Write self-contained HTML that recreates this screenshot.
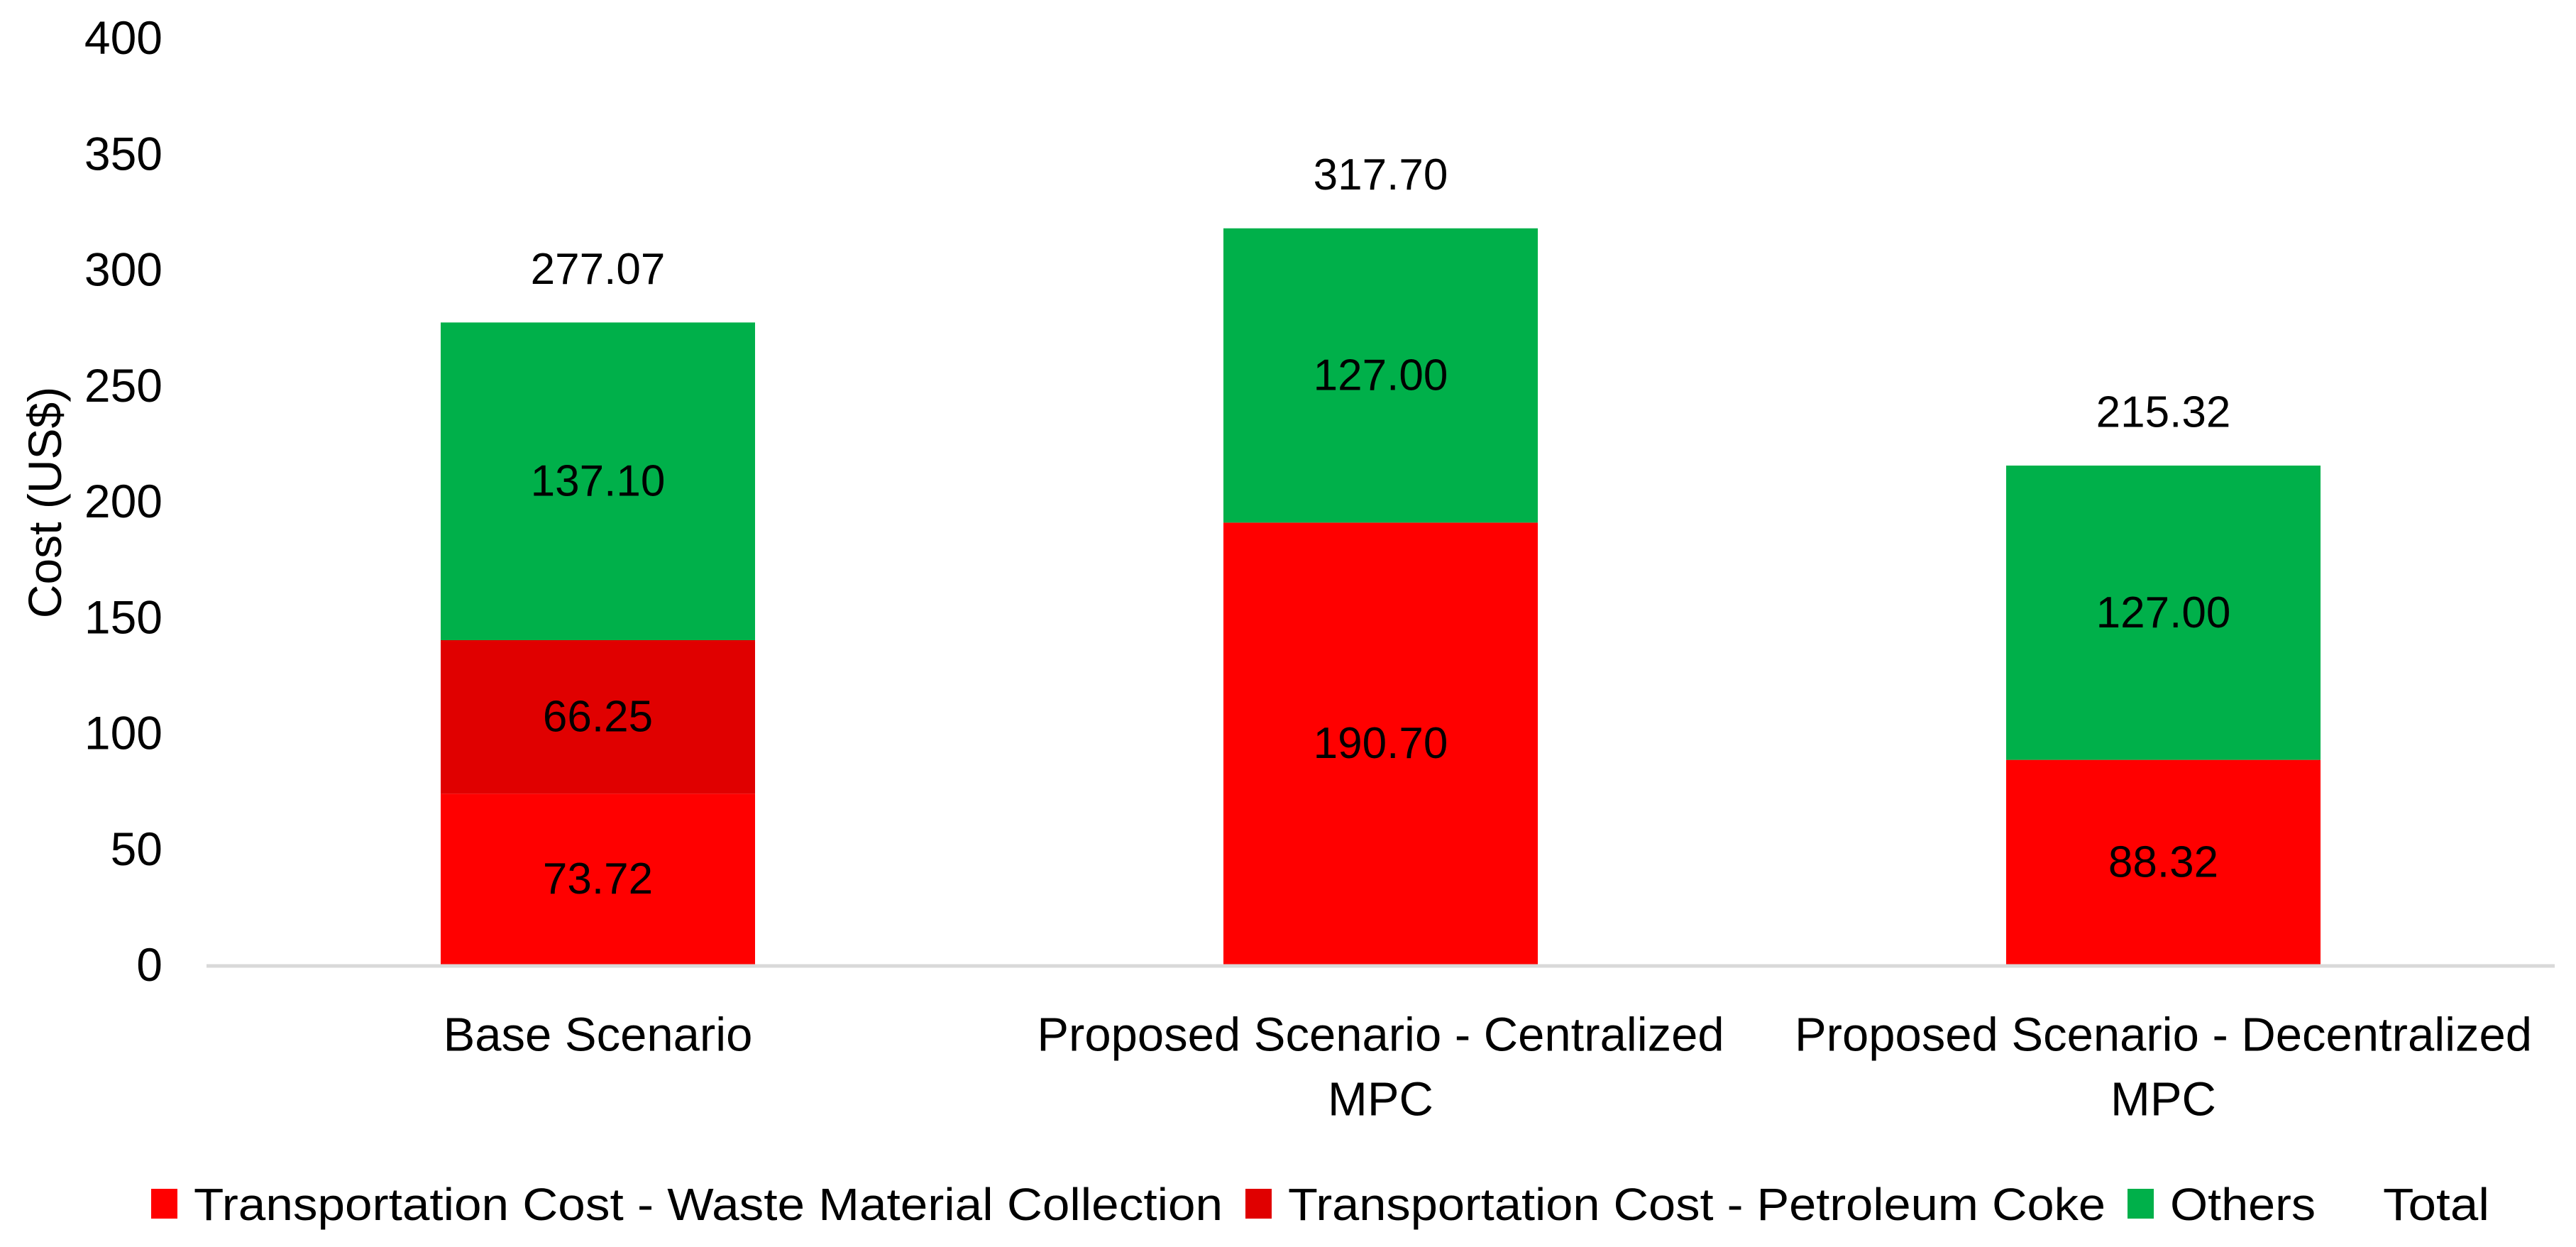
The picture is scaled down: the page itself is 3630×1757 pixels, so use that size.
<!DOCTYPE html>
<html><head><meta charset="utf-8"><style>
html,body{margin:0;padding:0;background:#fff;}
svg{display:block;font-family:"Liberation Sans",Arial,sans-serif;}
</style></head><body>
<svg id="chart" width="3630" height="1757" viewBox="0 0 3630 1757" xmlns="http://www.w3.org/2000/svg">
<rect width="3630" height="1757" fill="#fff"/>
<text transform="translate(63,708) rotate(-90)" text-anchor="middle" dominant-baseline="central" font-size="66" fill="#000">Cost (US$)</text>
<g id="plot"></g>
<g id="legend">
  <rect x="213" y="1675" width="37" height="42" fill="#FF0000"/>
  <text x="273" y="1719" font-size="64" textLength="1450" lengthAdjust="spacingAndGlyphs">Transportation Cost - Waste Material Collection</text>
  <rect x="1755" y="1675" width="37" height="42" fill="#E00000"/>
  <text x="1815" y="1719" font-size="64" textLength="1152" lengthAdjust="spacingAndGlyphs">Transportation Cost - Petroleum Coke</text>
  <rect x="2998" y="1675" width="37" height="42" fill="#00B04A"/>
  <text x="3058" y="1719" font-size="64" textLength="205" lengthAdjust="spacingAndGlyphs">Others</text>
  <text x="3358" y="1719" font-size="64" textLength="150" lengthAdjust="spacingAndGlyphs">Total</text>
</g>
</svg>
<script>
const categories = [["Base Scenario"], ["Proposed Scenario - Centralized", "MPC"], ["Proposed Scenario - Decentralized", "MPC"]];
const wasteCollection = [73.72, 190.70, 88.32];
const petroleumCoke = [66.25, 0, 0];
const others = [137.10, 127.00, 127.00];
const totals = [277.07, 317.70, 215.32];
const yTicks = [0, 50, 100, 150, 200, 250, 300, 350, 400];

const NS = "http://www.w3.org/2000/svg";
const plot = document.getElementById("plot");
const x0 = 291, x1 = 3600, yBase = 1359, yTop = 53, yMax = 400;
const band = (x1 - x0) / categories.length;
const barW = 443;
function y(v){ return yBase - (v / yMax) * (yBase - yTop); }
function xc(i){ return x0 + band * (i + 0.5); }
function mk(tag, attrs, text){
  const e = document.createElementNS(NS, tag);
  for (const k in attrs) e.setAttribute(k, attrs[k]);
  if (text !== undefined) e.textContent = text;
  plot.appendChild(e);
  return e;
}
yTicks.forEach(t => {
  const e = mk("text", {x: 229, y: y(t), "text-anchor": "end", "dominant-baseline": "central", "font-size": 66}, String(t));
  
  
});
const series = [
  {vals: wasteCollection, color: "#FF0000", name: "waste"},
  {vals: petroleumCoke, color: "#E00000", name: "petcoke"},
  {vals: others, color: "#00B04A", name: "others"}
];
categories.forEach((cat, i) => {
  let acc = 0;
  series.forEach(s => {
    const v = s.vals[i];
    if (v > 0) {
      const r = mk("rect", {x: xc(i) - barW/2, y: y(acc + v), width: barW, height: y(acc) - y(acc + v), fill: s.color});
      
      
      const t = mk("text", {x: xc(i), y: (y(acc) + y(acc + v)) / 2, "text-anchor": "middle", "dominant-baseline": "central", "font-size": 62}, v.toFixed(2));
      
      
    }
    acc += v;
  });
  const tt = mk("text", {x: xc(i), y: y(totals[i]) - 75, "text-anchor": "middle", "dominant-baseline": "central", "font-size": 62}, totals[i].toFixed(2));
  
  
  cat.forEach((line, j) => {
    const c = mk("text", {x: xc(i), y: 1458 + j * 91, "text-anchor": "middle", "dominant-baseline": "central", "font-size": 67}, line);
    
    
  });
});
const ax = mk("line", {x1: x0, x2: x1, y1: yBase + 2, y2: yBase + 2, stroke: "#D9D9D9", "stroke-width": 5});


</script>
</body></html>
